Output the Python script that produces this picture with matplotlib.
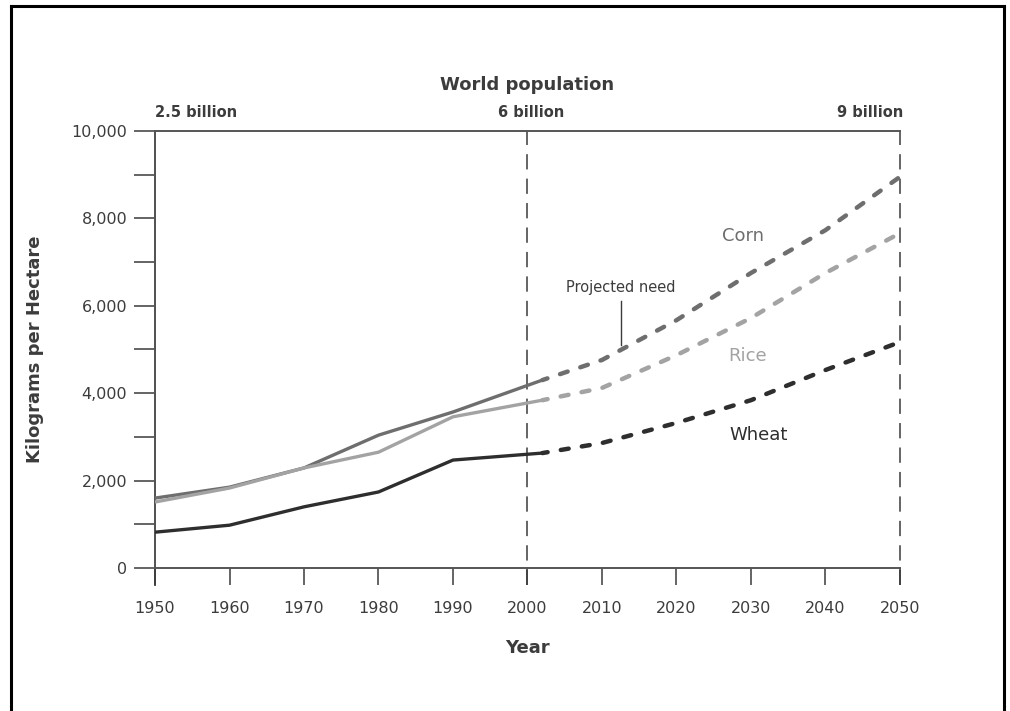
"""World grain yields with projected need to 2050."""

import matplotlib

matplotlib.use("Agg")
import matplotlib.pyplot as plt
from matplotlib.lines import Line2D

# historical yields (kg per hectare)
years_hist = [1950, 1960, 1970, 1980, 1990, 2002]
corn_hist = [1600, 1850, 2290, 3040, 3570, 4300]
rice_hist = [1510, 1830, 2290, 2650, 3460, 3840]
wheat_hist = [820, 980, 1400, 1740, 2470, 2630]

# projected need
years_proj = [2002, 2010, 2020, 2030, 2040, 2050]
corn_proj = [4300, 4760, 5670, 6750, 7730, 8950]
rice_proj = [3840, 4120, 4870, 5720, 6750, 7660]
wheat_proj = [2630, 2860, 3320, 3840, 4530, 5170]

x_ticks = list(range(1950, 2051, 10))
y_ticks = list(range(0, 10001, 1000))
population_years = [1950, 2000, 2050]
population_labels = ["2.5 billion", "6 billion", "9 billion"]

CORN = "#6e6e6e"
RICE = "#a3a3a3"
WHEAT = "#2e2e2e"
AXIS = "#3a3a3a"
TEXT = "#3c3c3c"

plt.rcParams["font.family"] = ["DejaVu Sans"]

fig = plt.figure(figsize=(10.1, 7.11), dpi=100)
ax = fig.add_axes([0.1535, 0.2011, 0.891 - 0.1535, 0.8158 - 0.2011])

for ys, c in [(corn_hist, CORN), (rice_hist, RICE), (wheat_hist, WHEAT)]:
    ax.plot(years_hist, ys, color=c, lw=2.4, solid_capstyle="butt", zorder=3)
for ys, c in [(corn_proj, CORN), (rice_proj, RICE), (wheat_proj, WHEAT)]:
    ax.plot(years_proj, ys, color=c, lw=3.2, linestyle=(0.6, (1.8, 3.0)),
            dash_capstyle="round", zorder=3)

ax.set_xlim(1950, 2050)
ax.set_ylim(0, 10000)
ax.set_xticks(x_ticks)
ax.set_yticks(y_ticks)
ax.set_yticklabels([f"{v:,}" if v % 2000 == 0 else "" for v in y_ticks])
ax.tick_params(axis="both", direction="out", length=15, width=1.1, color=AXIS,
               labelsize=11.5, labelcolor=TEXT)
ax.tick_params(axis="x", length=12, pad=12)
ax.tick_params(axis="y", pad=5)

for side in ["top", "bottom", "left"]:
    ax.spines[side].set_color("#555555")
    ax.spines[side].set_linewidth(1.4)
ax.spines["right"].set_visible(False)

# population markers
for yr in population_years[1:]:
    ax.axvline(yr, ymin=-0.04, ymax=1, color=AXIS, lw=1.1,
               linestyle=(0, (10, 6)), clip_on=False, zorder=2)
ax.axvline(1950, ymin=-0.04, ymax=1, color=AXIS, lw=1.3, clip_on=False, zorder=2)

ax.text(1950, 10250, population_labels[0], ha="left", va="bottom",
        fontsize=10.5, fontweight="bold", color=TEXT)
ax.text(2000.5, 10250, population_labels[1], ha="center", va="bottom",
        fontsize=10.5, fontweight="bold", color=TEXT)
ax.text(2050.5, 10250, population_labels[2], ha="right", va="bottom",
        fontsize=10.5, fontweight="bold", color=TEXT)
ax.text(2000, 10850, "World population", ha="center", va="bottom",
        fontsize=13, fontweight="bold", color=TEXT)

# series labels
ax.text(2029, 7600, "Corn", ha="center", va="center", fontsize=13, color=CORN)
ax.text(2029.5, 4850, "Rice", ha="center", va="center", fontsize=13, color=RICE)
ax.text(2031, 3050, "Wheat", ha="center", va="center", fontsize=13, color=WHEAT)
ax.text(2012.5, 6420, "Projected need", ha="center", va="center",
        fontsize=10.5, color=TEXT)
ax.plot([2012.5, 2012.5], [6100, 5100], color=TEXT, lw=1.0, zorder=4)

ax.set_xlabel("Year", fontsize=13, fontweight="bold", color=TEXT, labelpad=16)
ax.set_ylabel("Kilograms per Hectare", fontsize=13, fontweight="bold",
              color=TEXT, labelpad=20)

# outer frame of the scanned page
for xs, ys in [([0.011, 0.011], [0.0, 0.992]), ([0.011, 0.994], [0.992, 0.992]),
               ([0.994, 0.994], [0.992, 0.0])]:
    fig.add_artist(Line2D(xs, ys, color="black", lw=2.2))

fig.savefig("out.png", dpi=100, facecolor="white")
